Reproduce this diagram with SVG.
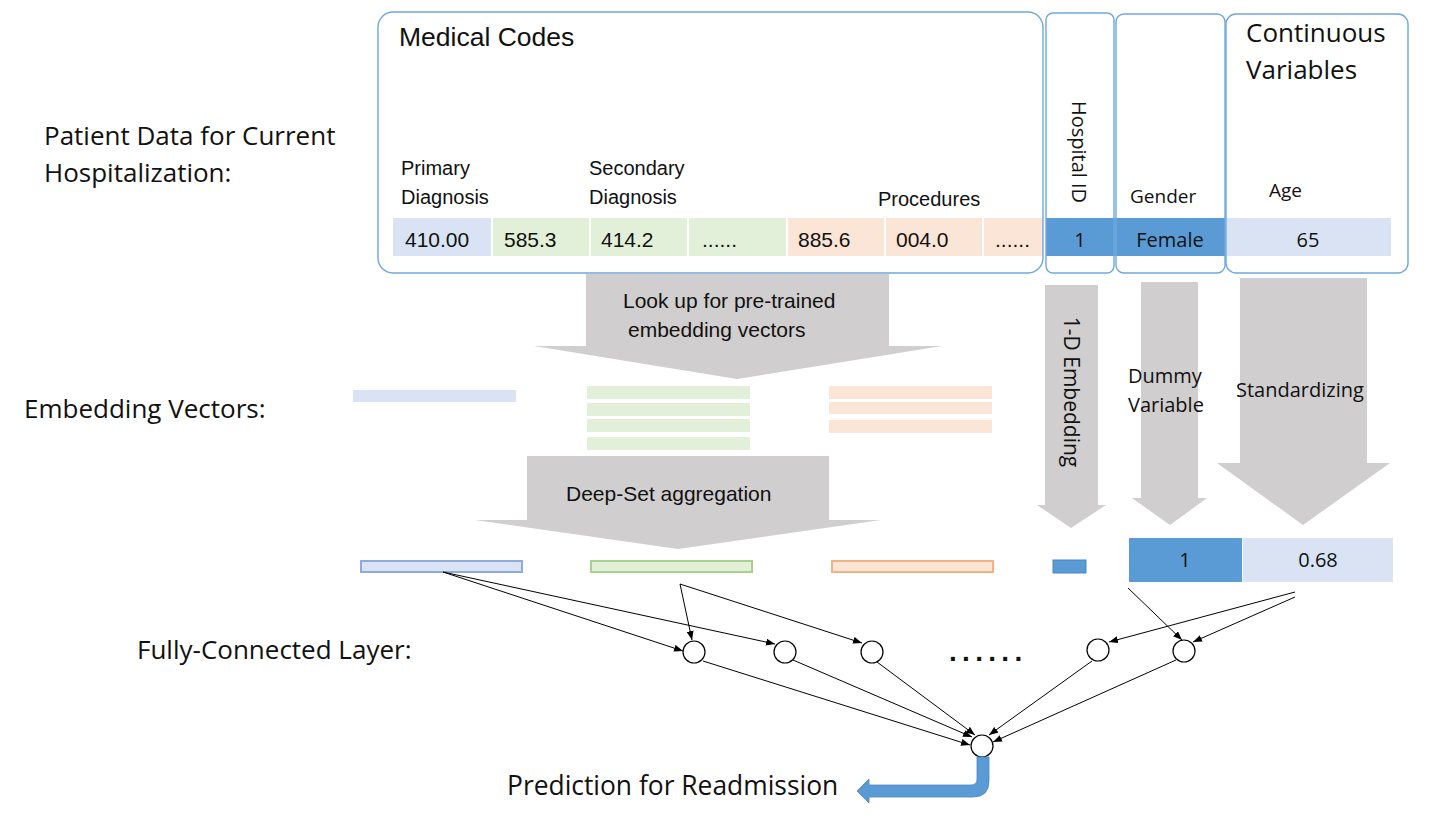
<svg xmlns="http://www.w3.org/2000/svg" width="1452" height="816" viewBox="0 0 1452 816">
<style>
.seg{font-family:"Open Sans","Liberation Sans",sans-serif;fill:#111}
.cal{font-family:"Liberation Sans",Arial,sans-serif;fill:#111}
.arrow{fill:#D0CECE}
.box{fill:none;stroke:#6FA8DC;stroke-width:1.4}
.conn{stroke:#000;stroke-width:1;fill:none;marker-end:url(#ah)}
.node{fill:#fff;stroke:#000;stroke-width:1.2}
</style>
<defs>
<marker id="ah" markerUnits="userSpaceOnUse" markerWidth="9" markerHeight="7" refX="9" refY="3.5" orient="auto">
<path d="M0,0 L9,3.5 L0,7 z" fill="#000"/>
</marker>
</defs>
<rect width="1452" height="816" fill="#fff"/>

<g id="left-labels">
<text class="seg" x="44" y="145" font-size="26">Patient Data for Current</text>
<text class="seg" x="44" y="182" font-size="26">Hospitalization:</text>
<text class="seg" x="24" y="418" font-size="26">Embedding Vectors:</text>
<text class="seg" x="137" y="659" font-size="26">Fully-Connected Layer:</text>
</g>

<g id="input-cells">
<rect x="393" y="218" width="98" height="38" fill="#DAE3F3"/>
<rect x="493" y="218" width="96" height="38" fill="#E2F0D9"/>
<rect x="591" y="218" width="96" height="38" fill="#E2F0D9"/>
<rect x="689" y="218" width="97" height="38" fill="#E2F0D9"/>
<rect x="788" y="218" width="96" height="38" fill="#FBE5D6"/>
<rect x="886" y="218" width="96" height="38" fill="#FBE5D6"/>
<rect x="984" y="218" width="59" height="38" fill="#FBE5D6"/>
<rect x="1046" y="218" width="179" height="38" fill="#5B9BD5"/>
<rect x="1226" y="218" width="165" height="38" fill="#DAE3F3"/>
<text class="cal" x="405" y="247" font-size="21">410.00</text>
<text class="cal" x="504" y="247" font-size="21">585.3</text>
<text class="cal" x="601" y="247" font-size="21">414.2</text>
<text class="cal" x="702" y="247" font-size="21">......</text>
<text class="cal" x="798" y="247" font-size="21">885.6</text>
<text class="cal" x="896" y="247" font-size="21">004.0</text>
<text class="cal" x="995" y="247" font-size="21">......</text>
<text class="seg" x="1080" y="247" font-size="20" text-anchor="middle">1</text>
<text class="seg" x="1170" y="247" font-size="20" text-anchor="middle">Female</text>
<text class="seg" x="1308" y="247" font-size="20" text-anchor="middle">65</text>
</g>

<g id="medical-codes">
<rect class="box" x="378" y="12" width="665" height="261" rx="15"/>
<text class="cal" x="399" y="46" font-size="26.5">Medical Codes</text>
<text class="cal" x="401" y="175" font-size="20">Primary</text>
<text class="cal" x="401" y="204" font-size="20">Diagnosis</text>
<text class="cal" x="589" y="175" font-size="20">Secondary</text>
<text class="cal" x="589" y="204" font-size="20">Diagnosis</text>
<text class="cal" x="878" y="206" font-size="20">Procedures</text>
</g>

<g id="hospital-id">
<rect class="box" x="1046" y="13" width="68" height="260" rx="7"/>
<text class="seg" font-size="20" text-anchor="middle" transform="translate(1072,152) rotate(90)">Hospital ID</text>
</g>

<g id="gender">
<rect class="box" x="1116" y="14" width="109" height="259" rx="8"/>
<text class="seg" x="1130" y="203" font-size="19">Gender</text>
</g>

<g id="continuous">
<rect class="box" x="1226" y="14" width="182" height="259" rx="10"/>
<text class="seg" x="1246" y="42" font-size="26">Continuous</text>
<text class="seg" x="1246" y="79" font-size="26">Variables</text>
<text class="seg" x="1269" y="197" font-size="19">Age</text>
</g>

<g id="lookup-arrow">
<polygon class="arrow" points="586,274 889,274 889,346 942,346 737,379 534,346 586,346"/>
<text class="cal" x="623" y="308" font-size="21">Look up for pre-trained</text>
<text class="cal" x="628" y="337" font-size="21">embedding vectors</text>
</g>

<g id="embedding-vectors">
<rect x="353" y="390" width="163" height="12" fill="#DAE3F3"/>
<rect x="587" y="386" width="163" height="13" fill="#E2F0D9"/>
<rect x="587" y="403" width="163" height="13" fill="#E2F0D9"/>
<rect x="587" y="419" width="163" height="13" fill="#E2F0D9"/>
<rect x="587" y="437" width="163" height="13" fill="#E2F0D9"/>
<rect x="829" y="386" width="163" height="13" fill="#FBE5D6"/>
<rect x="829" y="402" width="163" height="12" fill="#FBE5D6"/>
<rect x="829" y="420" width="163" height="13" fill="#FBE5D6"/>
</g>

<g id="deepset-arrow">
<polygon class="arrow" points="527,456 829,456 829,520 881,520 678,549 475,520 527,520"/>
<text class="cal" x="566" y="501" font-size="21">Deep-Set aggregation</text>
</g>

<g id="embed1d-arrow">
<polygon class="arrow" points="1045,285 1098,285 1098,505 1106,505 1071,528 1037,505 1045,505"/>
<text class="seg" font-size="21" text-anchor="middle" transform="translate(1064,392) rotate(90)">1-D Embedding</text>
</g>

<g id="dummy-arrow">
<polygon class="arrow" points="1141,282 1198,282 1198,498 1207,498 1170,525 1132,498 1141,498"/>
<text class="seg" x="1128" y="383" font-size="20">Dummy</text>
<text class="seg" x="1128" y="412" font-size="20">Variable</text>
</g>

<g id="standardizing-arrow">
<polygon class="arrow" points="1240,278 1367,278 1367,463 1390,463 1303,525 1217,463 1240,463"/>
<text class="seg" x="1236" y="397" font-size="20">Standardizing</text>
</g>

<g id="aggregated-vectors">
<rect x="361" y="561" width="161" height="11" fill="#DAE3F3" stroke="#8FAADC" stroke-width="2"/>
<rect x="591" y="561" width="161" height="11" fill="#E2F0D9" stroke="#A9D18E" stroke-width="2"/>
<rect x="832" y="561" width="161" height="11" fill="#FBE5D6" stroke="#F4B183" stroke-width="2"/>
<rect x="1053" y="560" width="33" height="13" fill="#5B9BD5" stroke="#4A86C5" stroke-width="1"/>
<rect x="1129" y="538" width="113" height="44" fill="#5B9BD5"/>
<rect x="1243" y="538" width="150" height="44" fill="#DAE3F3"/>
<text class="seg" x="1185" y="567" font-size="20" text-anchor="middle">1</text>
<text class="seg" x="1318" y="567" font-size="20" text-anchor="middle">0.68</text>
</g>

<g id="connectors">
<line class="conn" x1="443" y1="572" x2="683" y2="651"/>
<line class="conn" x1="443" y1="572" x2="775" y2="644"/>
<line class="conn" x1="680" y1="584" x2="692" y2="640"/>
<line class="conn" x1="680" y1="584" x2="862" y2="643"/>
<line class="conn" x1="1128" y1="588" x2="1182" y2="640"/>
<line class="conn" x1="1295" y1="592" x2="1109" y2="642"/>
<line class="conn" x1="1295" y1="597" x2="1193" y2="642"/>
<line class="conn" x1="703" y1="661" x2="970" y2="745"/>
<line class="conn" x1="793" y1="660" x2="972" y2="737"/>
<line class="conn" x1="877" y1="662" x2="975" y2="735"/>
<line class="conn" x1="1092" y1="661" x2="989" y2="735"/>
<line class="conn" x1="1176" y1="660" x2="993" y2="742"/>
</g>

<g id="fc-layer">
<circle class="node" cx="694" cy="652" r="11"/>
<circle class="node" cx="785" cy="652" r="11"/>
<circle class="node" cx="872" cy="652" r="11"/>
<text class="cal" x="949" y="661" font-size="28" font-weight="bold" letter-spacing="5.3">......</text>
<circle class="node" cx="1098" cy="650" r="11"/>
<circle class="node" cx="1184" cy="651" r="11"/>
</g>

<g id="output">
<circle class="node" cx="982" cy="746" r="11"/>
<path d="M977,757 H989 V781 Q989,797 973,797 H869 V803 L857,791 L869,779 V785 H971 Q977,785 977,779 Z" fill="#5B9BD5" stroke="#4A86C5" stroke-width="0.8"/>
<text class="seg" x="507" y="795" font-size="26.4">Prediction for Readmission</text>
</g>
</svg>
